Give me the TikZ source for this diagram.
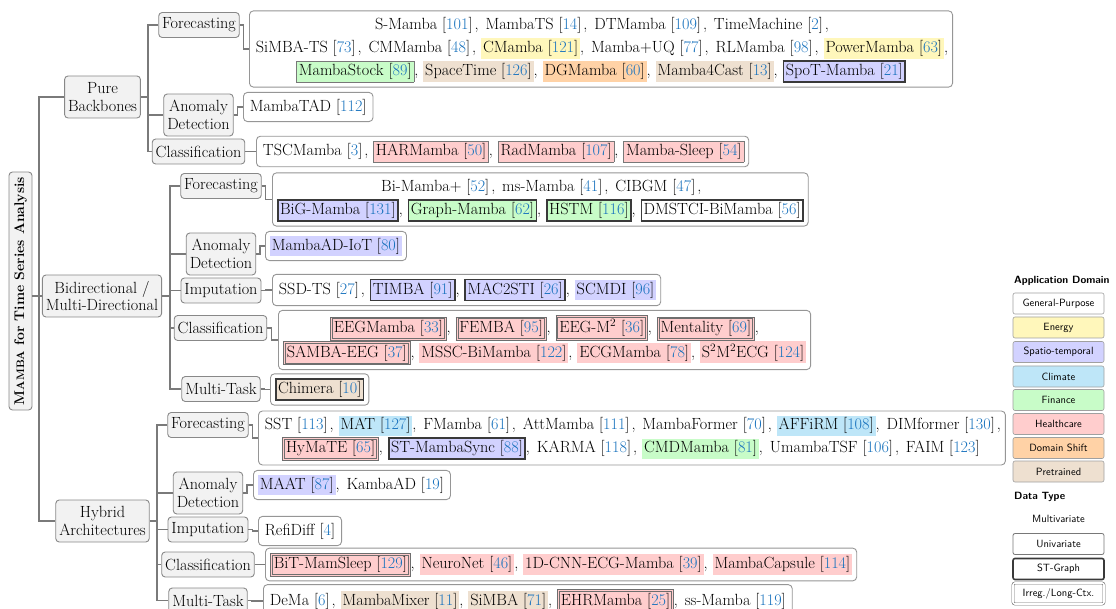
\documentclass[tikz,border=0pt]{standalone}
\usepackage{xcolor}
\usetikzlibrary{calc}

% palette
\definecolor{refblue}{RGB}{25,115,190}
\definecolor{energy}{RGB}{255,247,187}
\definecolor{spatio}{RGB}{210,210,255}
\definecolor{climate}{RGB}{190,230,248}
\definecolor{finance}{RGB}{200,252,200}
\definecolor{health}{RGB}{255,205,205}
\definecolor{dshift}{RGB}{255,210,166}
\definecolor{pretrained}{RGB}{238,224,208}
\definecolor{catfill}{RGB}{242,242,242}
\definecolor{catdraw}{RGB}{136,136,136}
\definecolor{leafdraw}{RGB}{150,150,150}
\definecolor{connc}{RGB}{122,122,122}
\definecolor{unidraw}{RGB}{120,120,120}
\definecolor{stdraw}{RGB}{58,58,58}
\definecolor{irdraw}{RGB}{110,110,110}

% citation and item boxes (fill = domain, frame = data type)
\setlength\fboxsep{2pt}
\newcommand\rfc[1]{[\textcolor{refblue}{#1}]}
\newcommand\itmP[1]{\colorbox{white}{#1}}
\newcommand\itmC[2]{\colorbox{#1}{#2}}
\newcommand\itmU[2]{{\fboxrule=0.7pt\fcolorbox{unidraw}{#1}{#2}}}
\newcommand\itmS[2]{{\fboxrule=1.6pt\fboxsep=1.5pt\fcolorbox{stdraw}{#1}{#2}}}
\newcommand\itmI[2]{{\fboxrule=0.7pt\fboxsep=1.2pt\fcolorbox{irdraw}{#1}{\fboxsep=1.2pt\fcolorbox{irdraw}{#1}{#2}}}}

\begin{document}
\begin{tikzpicture}[x=1pt,y=-1pt,
  cat/.style={rounded corners=3.5pt, draw=catdraw, fill=catfill, line width=0.9pt,
    inner xsep=3.5pt, inner ysep=2pt, align=center, minimum height=25pt,
    font=\fontsize{16.2}{17.5}\selectfont},
  cat2/.style={cat, minimum height=42pt},
  leaf/.style={rounded corners=4pt, draw=leafdraw, fill=white, line width=0.9pt,
    inner xsep=4.5pt, inner ysep=4.5pt, align=center, anchor=west,
    font=\fontsize{16.2}{23}\selectfont},
  conn/.style={draw=connc, line width=1.4pt},
  lg/.style={rounded corners=2pt, draw=catdraw!80, line width=0.6pt,
    minimum width=91pt, minimum height=21pt, inner sep=0pt,
    font=\sffamily\fontsize{10.5}{12}\selectfont},
  lghead/.style={anchor=west, inner sep=0pt, font=\sffamily\bfseries\fontsize{10.5}{12}\selectfont}]
\useasboundingbox (0,0) rectangle (1116,609);

% ---------------- root and first level ----------------
\node[cat, rotate=90, minimum width=238pt, minimum height=23pt, inner sep=0pt,
  font=\bfseries\fontsize{14}{16}\selectfont] (root) at (20.5,291)
  {M{\fontsize{10.8}{12}\selectfont AMBA} for Time Series Analysis};
\node[cat2] (pure) at (102.5,97) {Pure\\Backbones};
\node[cat2] (bid) at (102,296) {Bidirectional /\\Multi-Directional};
\node[cat2] (hyb) at (102.5,521) {Hybrid\\Architectures};

% ---------------- Pure backbones ----------------
\node[cat] (pf) at (199,25) {Forecasting};
\node[cat2] (pa) at (198.5,115) {Anomaly\\Detection};
\node[cat] (pc) at (198.5,151.5) {Classification};

\node[leaf] (pfl) at (249,49) {%
\itmP{S-Mamba \rfc{101}}, \itmP{MambaTS \rfc{14}}, \itmP{DTMamba \rfc{109}}, \itmP{TimeMachine \rfc{2}},\\
\itmP{SiMBA-TS \rfc{73}}, \itmP{CMMamba \rfc{48}}, \itmC{energy}{CMamba \rfc{121}}, \itmP{Mamba+UQ \rfc{77}}, \itmP{RLMamba \rfc{98}}, \itmC{energy}{PowerMamba \rfc{63}},\\
\itmU{finance}{MambaStock \rfc{89}}, \itmC{pretrained}{SpaceTime \rfc{126}}, \itmC{dshift}{DGMamba \rfc{60}}, \itmC{pretrained}{Mamba4Cast \rfc{13}}, \itmS{spatio}{SpoT-Mamba \rfc{21}}};
\node[leaf] (pal) at (243,107) {\itmP{MambaTAD \rfc{112}}};
\node[leaf] (pcl) at (256,151.5) {%
\itmP{TSCMamba \rfc{3}}, \itmU{health}{HARMamba \rfc{50}}, \itmU{health}{RadMamba \rfc{107}}, \itmU{health}{Mamba-Sleep \rfc{54}}};

% ---------------- Bidirectional ----------------
\node[cat] (bf) at (221,186) {Forecasting};
\node[cat2] (ba) at (221,254) {Anomaly\\Detection};
\node[cat] (bi) at (221,290.5) {Imputation};
\node[cat] (bc) at (220.5,328) {Classification};
\node[cat] (bm) at (221,389) {Multi-Task};

\node[leaf] (bfl) at (272,199.5) {%
\itmP{Bi-Mamba+ \rfc{52}}, \itmP{ms-Mamba \rfc{41}}, \itmP{CIBGM \rfc{47}},\\
\itmS{spatio}{BiG-Mamba \rfc{131}}, \itmS{finance}{Graph-Mamba \rfc{62}}, \itmS{finance}{HSTM \rfc{116}}, \itmS{white}{DMSTCI-BiMamba \rfc{56}}};
\node[leaf] (bal) at (265,246) {\itmC{spatio}{MambaAD-IoT \rfc{80}}};
\node[leaf] (bil) at (272,290) {%
\itmP{SSD-TS \rfc{27}}, \itmS{spatio}{TIMBA \rfc{91}}, \itmS{spatio}{MAC2STI \rfc{26}}, \itmC{spatio}{SCMDI \rfc{96}}};
\node[leaf] (bcl) at (278,340) {%
\itmI{health}{EEGMamba \rfc{33}}, \itmI{health}{FEMBA \rfc{95}}, \itmI{health}{EEG-M\textsuperscript{2} \rfc{36}}, \itmI{health}{Mentality \rfc{69}},\\
\itmI{health}{SAMBA-EEG \rfc{37}}, \itmC{health}{MSSC-BiMamba \rfc{122}}, \itmC{health}{ECGMamba \rfc{78}}, \itmC{health}{S\textsuperscript{2}M\textsuperscript{2}ECG \rfc{124}}};
\node[leaf] (bml) at (270,389.5) {\itmS{pretrained}{Chimera \rfc{10}}};

% ---------------- Hybrid ----------------
\node[cat] (hf) at (208,425) {Forecasting};
\node[cat2] (ha) at (208,493) {Anomaly\\Detection};
\node[cat] (hi) at (208,529.5) {Imputation};
\node[cat] (hc) at (208,564.5) {Classification};
\node[cat] (hm) at (208,600.5) {Multi-Task};

\node[leaf] (hfl) at (258,438) {%
\itmP{SST \rfc{113}}, \itmC{climate}{MAT \rfc{127}}, \itmP{FMamba \rfc{61}}, \itmP{AttMamba \rfc{111}}, \itmP{MambaFormer \rfc{70}}, \itmC{climate}{AFFiRM \rfc{108}}, \itmP{DIMformer \rfc{130}},\\
\itmI{health}{HyMaTE \rfc{65}}, \itmS{spatio}{ST-MambaSync \rfc{88}}, \itmP{KARMA \rfc{118}}, \itmC{finance}{CMDMamba \rfc{81}}, \itmP{UmambaTSF \rfc{106}}, \itmP{FAIM \rfc{123}}};
\node[leaf] (hal) at (253,485) {\itmC{spatio}{MAAT \rfc{87}}, \itmP{KambaAD \rfc{19}}};
\node[leaf] (hil) at (258,531) {\itmP{RefiDiff \rfc{4}}};
\node[leaf] (hcl) at (265,564.5) {%
\itmI{health}{BiT-MamSleep \rfc{129}}, \itmC{health}{NeuroNet \rfc{46}}, \itmC{health}{1D-CNN-ECG-Mamba \rfc{39}}, \itmC{health}{MambaCapsule \rfc{114}}};
\node[leaf] (hml) at (263,601) {%
\itmP{DeMa \rfc{6}}, \itmC{pretrained}{MambaMixer \rfc{11}}, \itmC{pretrained}{SiMBA \rfc{71}}, \itmI{health}{EHRMamba \rfc{25}}, \itmP{ss-Mamba \rfc{119}}};

% ---------------- tree connectors ----------------
\coordinate (tk) at (39,0);
\draw[conn] (pure.west) -| (tk |- hyb.west) -- (hyb.west);
\draw[conn] (root.south |- bid.west) -- (bid.west);

\coordinate (pbus) at (148,0);
\draw[conn] (pure.east) -- (pbus |- pure.east);
\draw[conn] (pf.west) -| (pbus |- pc.west) -- (pc.west);
\draw[conn] (pbus |- pa.west) -- (pa.west);

\coordinate (bbus) at (170,0);
\draw[conn] (bid.east) -- (bbus |- bid.east);
\draw[conn] (bf.west) -| (bbus |- bm.west) -- (bm.west);
\foreach \n in {ba,bi,bc} \draw[conn] (bbus |- \n.west) -- (\n.west);

\coordinate (hbus) at (157,0);
\draw[conn] (hyb.east) -- (hbus |- hyb.east);
\draw[conn] (hf.west) -| (hbus |- hm.west) -- (hm.west);
\foreach \n in {ha,hi,hc} \draw[conn] (hbus |- \n.west) -- (\n.west);

\foreach \a/\b in {pf/pfl,pa/pal,pc/pcl,bf/bfl,ba/bal,bi/bil,bc/bcl,bm/bml,hf/hfl,ha/hal,hi/hil,hc/hcl,hm/hml}
  \draw[conn] (\a.east) -- ++(4,0) |- (\b.west);

% ---------------- legend ----------------
\node[lghead] (lgA) at (1014,281) {Application Domain};
\node[lg, fill=white] (lg1) at (1058.5,303.5) {General-Purpose};
\node[lg, fill=energy] (lg2) at (1058.5,327.5) {Energy};
\node[lg, fill=spatio] (lg3) at (1058.5,352) {Spatio-temporal};
\node[lg, fill=climate] (lg4) at (1058.5,376.5) {Climate};
\node[lg, fill=finance] (lg5) at (1058.5,400) {Finance};
\node[lg, fill=health] (lg6) at (1058.5,424) {Healthcare};
\node[lg, fill=dshift] (lg7) at (1058.5,448) {Domain Shift};
\node[lg, fill=pretrained] (lg8) at (1058.5,471.5) {Pretrained};
\node[lghead] (lgB) at (1014,497) {Data Type};
\node[lg, draw=none] (lg9) at (1058.5,518.5) {Multivariate};
\node[lg, fill=white, draw=unidraw, line width=0.8pt] (lg10) at (1058.5,544) {Univariate};
\node[lg, fill=white, draw=stdraw, line width=1.6pt] (lg11) at (1058.5,569) {ST-Graph};
\node[lg, draw=irdraw, line width=0.6pt, double=white, double distance=1.6pt] (lg12) at (1058.5,593.5) {Irreg./Long-Ctx.};
\end{tikzpicture}
\end{document}
